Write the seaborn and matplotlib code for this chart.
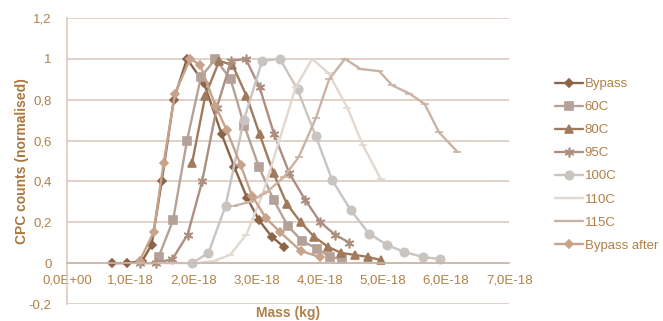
import numpy as np
import matplotlib
matplotlib.use('Agg')
import matplotlib.pyplot as plt
import matplotlib.ticker as mticker
import seaborn as sns

sns.set_style("white")
plt.rcParams['font.family'] = ['Liberation Sans', 'DejaVu Sans']

# masses in units of 1e-18 kg, counts normalised
bypass_x = [0.72, 0.95, 1.19, 1.34, 1.50, 1.69, 1.90, 2.17, 2.45, 2.65, 2.85, 3.04, 3.24, 3.43]
bypass_y = [0.0, 0.0, 0.01, 0.09, 0.40, 0.80, 1.0, 0.88, 0.63, 0.47, 0.32, 0.21, 0.13, 0.08]

c60_x = [1.45, 1.68, 1.90, 2.12, 2.35, 2.59, 2.81, 3.04, 3.27, 3.50, 3.72, 3.96, 4.17, 4.35]
c60_y = [0.03, 0.21, 0.60, 0.91, 1.0, 0.90, 0.67, 0.47, 0.31, 0.18, 0.11, 0.07, 0.03, 0.02]

c80_x = [1.98, 2.19, 2.41, 2.62, 2.84, 3.05, 3.27, 3.48, 3.70, 3.91, 4.13, 4.34, 4.56, 4.77, 4.97]
c80_y = [0.49, 0.82, 0.99, 0.97, 0.82, 0.63, 0.44, 0.29, 0.20, 0.13, 0.08, 0.05, 0.04, 0.03, 0.015]

c95_x = [1.16, 1.41, 1.67, 1.91, 2.14, 2.37, 2.60, 2.83, 3.05, 3.28, 3.52, 3.77, 4.01, 4.24, 4.47]
c95_y = [0.0, 0.0, 0.02, 0.14, 0.40, 0.76, 0.99, 1.0, 0.86, 0.63, 0.44, 0.31, 0.20, 0.14, 0.10]

c100_x = [1.98, 2.24, 2.51, 2.80, 3.09, 3.37, 3.65, 3.94, 4.20, 4.49, 4.78, 5.07, 5.34, 5.63, 5.91]
c100_y = [0.0, 0.05, 0.28, 0.70, 0.99, 1.0, 0.85, 0.62, 0.405, 0.26, 0.145, 0.088, 0.055, 0.03, 0.02]

c110_x = [1.50, 1.80, 2.06, 2.32, 2.58, 2.84, 3.10, 3.36, 3.62, 3.88, 4.14, 4.44, 4.68, 4.97]
c110_y = [0.0, 0.0, 0.0, 0.01, 0.04, 0.14, 0.34, 0.60, 0.86, 1.0, 0.93, 0.76, 0.58, 0.41]

c115_x = [2.64, 2.90, 3.17, 3.43, 3.67, 3.94, 4.15, 4.40, 4.65, 4.94, 5.15, 5.42, 5.66, 5.89, 6.18]
c115_y = [0.28, 0.30, 0.35, 0.42, 0.52, 0.71, 0.90, 1.0, 0.95, 0.94, 0.87, 0.83, 0.78, 0.64, 0.545]

after_x = [1.15, 1.37, 1.53, 1.71, 1.95, 2.11, 2.35, 2.53, 2.75, 2.93, 3.15, 3.38, 3.70, 4.00]
after_y = [0.01, 0.15, 0.49, 0.83, 1.0, 0.97, 0.77, 0.65, 0.48, 0.33, 0.22, 0.15, 0.06, 0.03]

labels = ['Bypass', '60C', '80C', '95C', '100C', '110C', '115C', 'Bypass after']
xs = [bypass_x, c60_x, c80_x, c95_x, c100_x, c110_x, c115_x, after_x]
ys = [bypass_y, c60_y, c80_y, c95_y, c100_y, c110_y, c115_y, after_y]
colors = ['#8c6448', '#b5a198', '#a07a5c', '#ad8f80', '#c9c4c0', '#e2d8cf', '#cbb3a3', '#c6a38a']
markers = ['D', 's', '^', (6, 2, 0), 'o', '_', '_', 'D']
msizes = [4.5, 6, 6, 7, 6, 6, 6, 4.5]

text_col = '#b08048'
grid_col = '#dccbbf'

fig = plt.figure(figsize=(6.63, 3.21), dpi=100)
ax = fig.add_axes([0.101, 0.053, 0.667, 0.891])

for x, y, lab, c, m, ms in zip(xs, ys, labels, colors, markers, msizes):
    sns.lineplot(x=np.array(x) * 1e-18, y=y, ax=ax, color=c, marker=m, markersize=ms,
                 markeredgecolor=c, markerfacecolor=c, markeredgewidth=1.2,
                 linewidth=1.7, sort=False, label=lab)

ax.set_xlim(0, 7e-18)
ax.set_ylim(-0.2, 1.2)
ax.set_xticks(np.arange(0, 8) * 1e-18)
ax.set_yticks(np.arange(-0.2, 1.21, 0.2))
ax.xaxis.set_major_formatter(mticker.FuncFormatter(lambda v, p: f"{v:.1E}".replace('.', ',')))
ax.yaxis.set_major_formatter(mticker.FuncFormatter(lambda v, p: f"{round(v, 1):g}".replace('.', ',')))
ax.tick_params(axis='both', length=0, labelsize=9.5, labelcolor=text_col)
ax.tick_params(axis='x', pad=8)
ax.tick_params(axis='y', pad=11)

ax.grid(axis='y', color=grid_col, linewidth=1.2)
ax.grid(axis='x', visible=False)
for s in ['top', 'right']:
    ax.spines[s].set_visible(False)
ax.spines['left'].set_color(grid_col)
ax.spines['left'].set_linewidth(1.2)
ax.spines['bottom'].set_position(('data', 0))
ax.spines['bottom'].set_color('#cdb6a6')
ax.spines['bottom'].set_linewidth(1.2)

ax.set_xlabel('Mass (kg)', fontsize=10, fontweight='bold', color=text_col)
ax.xaxis.set_label_coords(0.5, -0.032)
ax.xaxis.label.set_va('center')
ax.set_ylabel('CPC counts (normalised)', fontsize=10, fontweight='bold', color='#a87840')
ax.yaxis.set_label_coords(-0.102, 0.5)
ax.yaxis.label.set_va('center')

ax.legend(loc='upper left', bbox_to_anchor=(555 / 663, 1 - 78 / 321), bbox_transform=fig.transFigure,
          frameon=False, fontsize=9.5, labelcolor=text_col, handlelength=2.1,
          handletextpad=0.15, labelspacing=0.82, borderaxespad=0, borderpad=0)

fig.savefig('out.png', dpi=100)
